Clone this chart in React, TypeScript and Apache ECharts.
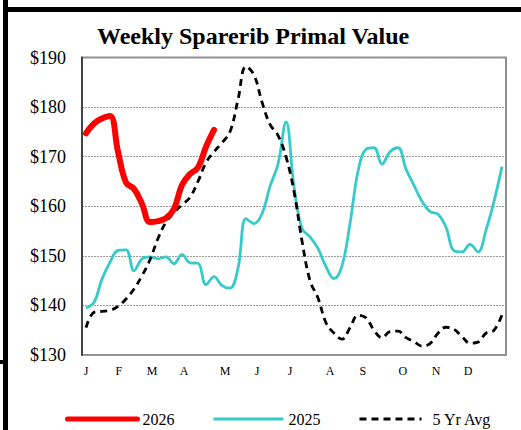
import React, { useEffect, useRef } from "react";
import * as echarts from "echarts";

const monthLabels = ["J", "F", "M", "A", "M", "J", "J", "A", "S", "O", "N", "D"];
const monthPos = [0, 4.1, 8.25, 12.25, 17.4, 21.4, 25.5, 30.5, 34.6, 39.6, 43.75, 47.75];

const y2026 = [174.7, 176.7, 177.7, 178.2, 171.0, 164.8, 163.5, 160.5, 156.8, 157.0, 157.6, 159.5, 164.3, 166.5, 167.8, 172.0, 175.4];

const y2025 = [
  139.5, 140.6, 145.3, 148.7, 151.1, 151.2, 147.0, 149.4, 149.8, 149.4,
  149.8, 148.4, 150.3, 148.6, 148.5, 144.2, 145.8, 144.0, 143.5, 147.5,
  157.5, 156.5, 158.5, 164.0, 168.5, 177.0, 164.0, 155.5, 153.8, 151.5,
  147.8, 145.4, 148.0, 156.5, 167.0, 171.5, 171.8, 168.5, 171.0, 171.8,
  167.5, 164.2, 161.0, 158.9, 158.4, 155.8, 151.0, 150.8, 152.3, 150.8,
  155.2, 161.0, 168.0,
];

const avg5 = [
  135.5, 138.6, 138.8, 139.0, 139.8, 141.3, 143.3, 146.0, 149.2, 153.5,
  156.8, 158.7, 160.3, 161.8, 165.0, 168.8, 171.0, 172.8, 175.0, 181.5,
  188.2, 186.5, 181.0, 176.5, 174.3, 170.0, 163.0, 153.0, 145.0, 141.5,
  136.5, 134.4, 133.2, 135.5, 138.0, 137.5, 135.0, 133.5, 134.7, 134.8,
  133.5, 132.7, 131.8, 132.3, 134.4, 135.6, 135.2, 133.7, 132.4, 132.6,
  134.4, 135.0, 138.1,
];

const FONT = "Liberation Serif";

export default function App() {
  const ref = useRef<HTMLDivElement>(null);
  useEffect(() => {
    if (!ref.current) return;
    const chart = echarts.init(ref.current, null, { renderer: "svg" });
    const toPairs = (arr: number[]) => arr.map((v, i) => [i, v]);
    const legendBase = {
      top: 406,
      itemHeight: 14,
      itemGap: 0,
      itemStyle: { opacity: 0 },
    };
    chart.setOption({
      animation: false,
      backgroundColor: "#fff",
      textStyle: { fontFamily: FONT },
      title: {
        text: "Weekly Sparerib Primal Value",
        left: 92,
        top: 19,
        textStyle: { fontFamily: FONT, fontSize: 24, fontWeight: "bold", color: "#000" },
      },
      grid: {
        left: 82,
        top: 57.5,
        right: 15,
        bottom: 75,
        show: true,
        borderColor: "#8f8f8f",
        borderWidth: 2,
        backgroundColor: "transparent",
      },
      xAxis: {
        type: "value",
        min: -0.5,
        max: 52.5,
        axisLine: { show: false },
        axisTick: { show: false },
        splitLine: { show: false },
        axisLabel: {
          customValues: monthPos,
          margin: 10,
          fontFamily: FONT,
          fontSize: 12,
          color: "#000",
          formatter: (v: number) => {
            const idx = monthPos.findIndex((p) => Math.abs(p - v) < 0.01);
            return idx >= 0 ? monthLabels[idx] : "";
          },
        },
      },
      yAxis: {
        type: "value",
        min: 130,
        max: 190,
        interval: 10,
        axisLine: { show: true, onZero: false, lineStyle: { color: "#444", width: 2 } },
        axisTick: { show: false },
        splitLine: { show: true, lineStyle: { color: "#9a9a9a", width: 1, type: [2, 1] } },
        axisLabel: {
          margin: 16,
          fontFamily: FONT,
          fontSize: 18,
          color: "#000",
          formatter: (v: number) => "$" + v,
        },
      },
      legend: [
        {
          ...legendBase,
          data: ["2026"],
          left: 60,
          itemWidth: 70,
          lineStyle: { width: 5, cap: "round" },
          textStyle: { fontFamily: FONT, fontSize: 16, color: "#000", padding: [0, 0, 0, 0] },
        },
        {
          ...legendBase,
          data: ["2025"],
          left: 207,
          itemWidth: 70,
          lineStyle: { width: 3 },
          textStyle: { fontFamily: FONT, fontSize: 16, color: "#000", padding: [0, 0, 0, 0] },
        },
        {
          ...legendBase,
          data: ["5 Yr Avg"],
          left: 353,
          itemWidth: 62,
          lineStyle: { width: 3 },
          textStyle: { fontFamily: FONT, fontSize: 16, color: "#000", padding: [0, 0, 0, 6] },
        },
      ],
      series: [
        {
          name: "2025",
          type: "line",
          data: toPairs(y2025),
          smooth: 0.4,
          showSymbol: false,
          symbol: "none",
          lineStyle: { color: "#36CACA", width: 2.8 },
          itemStyle: { color: "#36CACA" },
          z: 2,
        },
        {
          name: "5 Yr Avg",
          type: "line",
          data: toPairs(avg5),
          smooth: 0.4,
          showSymbol: false,
          symbol: "none",
          lineStyle: { color: "#000", width: 2.8, type: [7, 5] },
          itemStyle: { color: "#000" },
          z: 3,
        },
        {
          name: "2026",
          type: "line",
          data: toPairs(y2026),
          smooth: 0.4,
          showSymbol: false,
          symbol: "none",
          lineStyle: { color: "#FF0000", width: 6, cap: "round" },
          itemStyle: { color: "#FF0000" },
          z: 4,
        },
      ],
      graphic: [
        { type: "rect", shape: { x: 3, y: 0, width: 5, height: 430 }, style: { fill: "#000" } },
        { type: "rect", shape: { x: 3, y: 7, width: 518, height: 5 }, style: { fill: "#000" } },
        { type: "rect", shape: { x: 0, y: 360, width: 8, height: 4 }, style: { fill: "#000" } },
      ],
    });
    return () => chart.dispose();
  }, []);
  return (
    <div
      ref={ref}
      style={{ position: "fixed", left: 0, top: 0, width: 521, height: 430 }}
    />
  );
}
